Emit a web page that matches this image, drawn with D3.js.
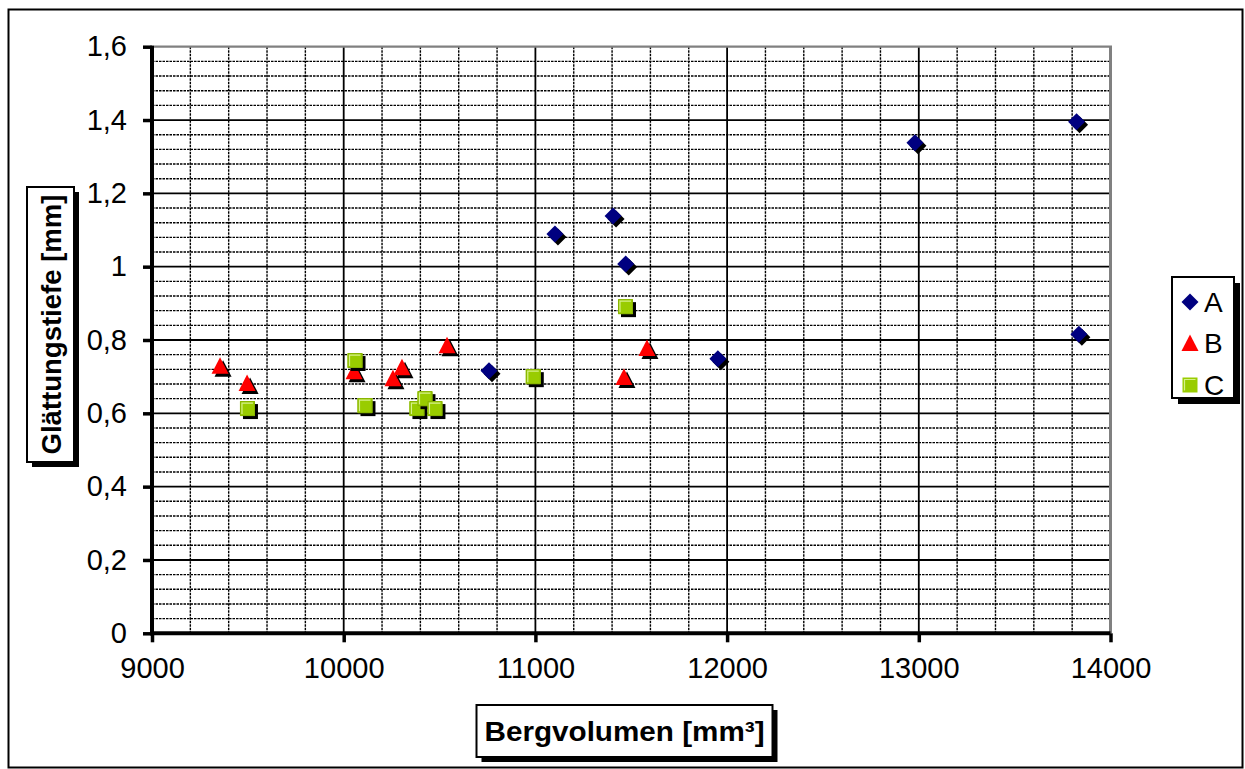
<!DOCTYPE html>
<html>
<head>
<meta charset="utf-8">
<script src="https://cdn.jsdelivr.net/npm/d3@7"></script>
<style>
  html, body { margin: 0; padding: 0; background: #fff; }
  svg { display: block; font-family: Arial, "Liberation Sans", sans-serif; }
</style>
</head>
<body>
<svg id="chart" width="1245" height="769"></svg>
<script>
// ---- data ----
const seriesNames = ["A", "B", "C"];
const seriesColors = ["#000080", "#FF0000", "#99CC00"];
const aX = [11102, 11405, 11471, 10758, 11952, 12980, 13823, 13835];
const aY = [1.089, 1.138, 1.007, 0.716, 0.749, 1.338, 1.395, 0.816];
const bX = [9355, 9496, 10054, 10257, 10304, 10539, 11462, 11582];
const bY = [0.730, 0.683, 0.715, 0.696, 0.726, 0.786, 0.699, 0.778];
const cX = [9498, 10059, 10111, 10382, 10424, 10476, 10989, 11470];
const cY = [0.613, 0.744, 0.621, 0.613, 0.640, 0.613, 0.700, 0.891];
const xTicks = [9000, 10000, 11000, 12000, 13000, 14000];
const xTickLabels = ["9000", "10000", "11000", "12000", "13000", "14000"];
const yTicks = [0, 0.2, 0.4, 0.6, 0.8, 1.0, 1.2, 1.4, 1.6];
const yTickLabels = ["0", "0,2", "0,4", "0,6", "0,8", "1", "1,2", "1,4", "1,6"];
const xTitle = "Bergvolumen [mm³]";
const yTitle = "Glättungstiefe [mm]";

const series = [
  { name: seriesNames[0], color: seriesColors[0], shape: "diamond", pts: aX.map((x, i) => [x, aY[i]]) },
  { name: seriesNames[1], color: seriesColors[1], shape: "triangle", pts: bX.map((x, i) => [x, bY[i]]) },
  { name: seriesNames[2], color: seriesColors[2], shape: "square", pts: cX.map((x, i) => [x, cY[i]]) }
];

const svg = d3.select("#chart");
const L = 152, R = 1110.5, T = 46.7, B = 633.3;
const x = d3.scaleLinear().domain([9000, 14000]).range([L, R]);
const y = d3.scaleLinear().domain([0, 1.6]).range([B, T]);

// outer border
svg.append("rect").attr("x", 8.5).attr("y", 9.5).attr("width", 1234).attr("height", 758)
  .attr("fill", "#fff").attr("stroke", "#000").attr("stroke-width", 2);

// minor grid
const g = svg.append("g");
const xMinor = d3.range(9000, 14001, 200).filter(v => v % 1000 !== 0);
const yMinor = d3.range(0, 161, 4).filter(v => v % 20 !== 0).map(v => v / 100);
g.selectAll("line.ym").data(yMinor).join("line")
  .attr("x1", L).attr("x2", R).attr("y1", d => y(d)).attr("y2", d => y(d))
  .attr("stroke", "#000").attr("stroke-width", 1.4).attr("stroke-dasharray", "2.5,1");
g.selectAll("line.xm").data(xMinor).join("line")
  .attr("y1", T).attr("y2", B).attr("x1", d => x(d)).attr("x2", d => x(d))
  .attr("stroke", "#000").attr("stroke-width", 1.4).attr("stroke-dasharray", "2.5,1");
// major grid
g.selectAll("line.yM").data(yTicks.slice(1, -1)).join("line")
  .attr("x1", L).attr("x2", R).attr("y1", d => y(d)).attr("y2", d => y(d))
  .attr("stroke", "#000").attr("stroke-width", 1.8);
g.selectAll("line.xM").data(xTicks.slice(1, -1)).join("line")
  .attr("y1", T).attr("y2", B).attr("x1", d => x(d)).attr("x2", d => x(d))
  .attr("stroke", "#000").attr("stroke-width", 1.8);

// plot border top/right gray
svg.append("line").attr("x1", L).attr("x2", R + 1.5).attr("y1", T).attr("y2", T)
  .attr("stroke", "#808080").attr("stroke-width", 2.2);
svg.append("line").attr("x1", R).attr("x2", R).attr("y1", T).attr("y2", B)
  .attr("stroke", "#808080").attr("stroke-width", 3);

// axes
const yAxis = d3.axisLeft(y).tickValues(yTicks).tickFormat((d, i) => yTickLabels[i]).tickSize(9).tickPadding(16);
const xAxis = d3.axisBottom(x).tickValues(xTicks).tickFormat((d, i) => xTickLabels[i]).tickSize(9).tickPadding(15);
const ya = svg.append("g").attr("transform", `translate(${L},0)`).call(yAxis);
const xa = svg.append("g").attr("transform", `translate(0,${B})`).call(xAxis);
[ya, xa].forEach(a => {
  a.select(".domain").attr("stroke", "#000").attr("stroke-width", 4);
  a.selectAll(".tick line").attr("stroke", "#000").attr("stroke-width", 3.5);
  a.selectAll(".tick text").attr("fill", "#000").attr("font-size", 29)
    .attr("font-family", 'Arial, "Liberation Sans", sans-serif');
});
ya.select(".domain").attr("d", `M0,${T - 1}V${B + 2}`);
xa.select(".domain").attr("d", `M${L - 2},0H${R}`);

// markers
function shapePath(shape) {
  if (shape === "diamond") return "M0,-8.5L8.5,0L0,8.5L-8.5,0Z";
  if (shape === "triangle") return "M0,-8.5L8.5,8L-8.5,8Z";
  return "M-7.5,-7.5H7.5V7.5H-7.5Z";
}
series.forEach(s => {
  const sg = svg.append("g");
  const pts = sg.selectAll("g").data(s.pts).join("g")
    .attr("transform", d => `translate(${x(d[0])},${y(d[1])})`);
  pts.append("path").attr("d", shapePath(s.shape)).attr("transform", "translate(3,3)").attr("fill", "#000");
  pts.append("path").attr("d", shapePath(s.shape)).attr("fill", s.color);
  if (s.shape === "square") {
    pts.append("path").attr("d", "M-7,-7H7V7H-7Z").attr("fill", "none").attr("stroke", "#88b400").attr("stroke-width", 1);
    pts.append("path").attr("d", "M-5.5,5.5V-5.5H5.5").attr("fill", "none").attr("stroke", "#d6f08a").attr("stroke-width", 1.2);
  }
});

// axis title boxes
function titleBox(cx, cy, w, h, text, rotate, tlen) {
  const tg = svg.append("g").attr("transform", `translate(${cx},${cy})${rotate ? " rotate(-90)" : ""}`);
  tg.append("rect").attr("x", -w / 2 + (rotate ? -5 : 5)).attr("y", -h / 2 + 5)
    .attr("width", w).attr("height", h).attr("fill", "#000");
  tg.append("rect").attr("x", -w / 2).attr("y", -h / 2).attr("width", w).attr("height", h)
    .attr("fill", "#fff").attr("stroke", "#000").attr("stroke-width", 2);
  tg.append("text").attr("x", 0).attr("y", 10).attr("text-anchor", "middle")
    .attr("font-size", 28).attr("font-weight", "bold").attr("fill", "#000")
    .attr("textLength", tlen).attr("lengthAdjust", "spacingAndGlyphs").text(text);
}
titleBox(624.5, 731, 296, 52, xTitle, false, 280);
titleBox(50.5, 324.5, 275, 47, yTitle, true, 260);

// legend
const lg = svg.append("g");
lg.append("rect").attr("x", 1178).attr("y", 283).attr("width", 62).attr("height", 121).attr("fill", "#000");
lg.append("rect").attr("x", 1172).attr("y", 277).attr("width", 62).attr("height", 121)
  .attr("fill", "#fff").attr("stroke", "#000").attr("stroke-width", 2);
const ly = [302, 343, 385];
series.forEach((s, i) => {
  const it = lg.append("g").attr("transform", `translate(1190,${ly[i]})`);
  it.append("path").attr("d", shapePath(s.shape)).attr("fill", s.color);
  if (s.shape === "square") {
    it.append("path").attr("d", "M-5.5,5.5V-5.5H5.5").attr("fill", "none").attr("stroke", "#d6f08a").attr("stroke-width", 1.2);
  }
  it.append("text").attr("x", 14).attr("y", 10).attr("font-size", 28).attr("fill", "#000").text(s.name);
});
</script>
</body>
</html>
